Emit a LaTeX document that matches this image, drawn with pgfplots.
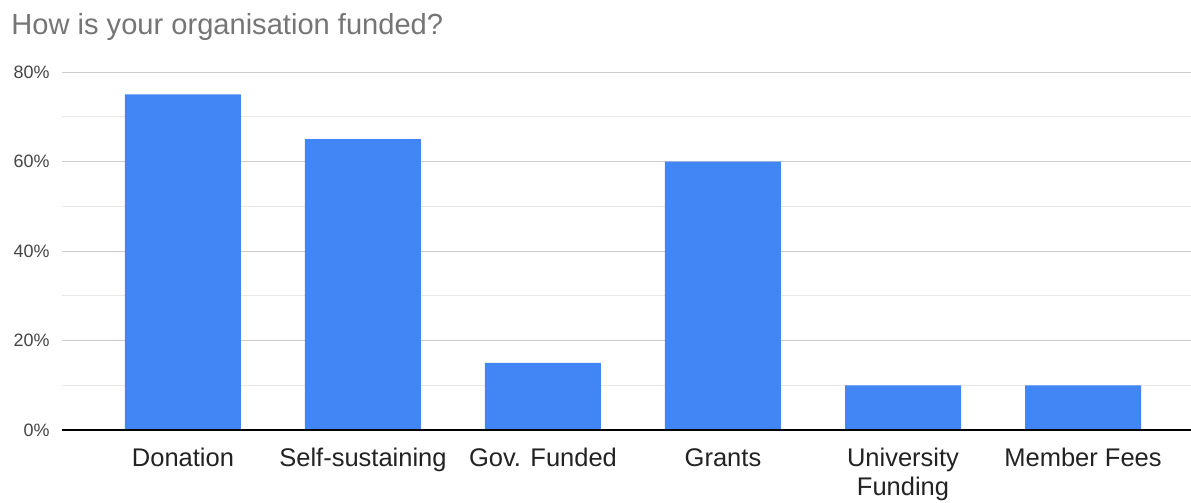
\documentclass[border=0pt]{standalone}
\usepackage{pgfplots}
\pgfplotsset{compat=1.18}
\usepackage{fontspec}
\setmainfont{Liberation Sans}
\definecolor{barblue}{HTML}{4285F4}
\definecolor{titlegray}{HTML}{757575}
\definecolor{ticklab}{HTML}{444444}
\definecolor{catlab}{HTML}{222222}
\definecolor{gridmaj}{HTML}{CCCCCC}
\definecolor{gridmin}{HTML}{E8E8E8}
\definecolor{baseline}{HTML}{333333}
\begin{document}
\begin{tikzpicture}
\useasboundingbox (0,0) rectangle (595.5bp,251.5bp);
\begin{axis}[
  at={(31bp,36.5bp)}, anchor=south west,
  scale only axis, width=564.5bp, height=179bp,
  xmin=-0.672, xmax=5.6, ymin=0, ymax=80,
  axis line style={draw=none},
  xtick={0,1,2,3,4,5},
  xticklabels={Donation, Self-sustaining, Gov. Funded, Grants, {University\\Funding}, Member Fees},
  ytick={0,20,40,60,80},
  yticklabels={0\%,20\%,40\%,60\%,80\%},
  minor ytick={10,30,50,70},
  ymajorgrids, yminorgrids,
  major grid style={gridmaj, line width=0.5bp},
  minor grid style={gridmin, line width=0.5bp},
  major tick length=0pt, minor tick length=0pt,
  yticklabel style={font=\fontsize{9}{10}\selectfont, text=ticklab, anchor=east, inner sep=0pt, xshift=-6bp},
  xticklabel style={font=\fontsize{12.8}{14.5}\selectfont, text=catlab, anchor=north, align=center, inner sep=0pt, yshift=-9bp},
  clip=false,
]
\addplot[ybar, bar width=58bp, fill=barblue, draw=none] coordinates {(0,75) (1,65) (2,15) (3,60) (4,10) (5,10)};
\draw[baseline, line width=0.6bp] (axis cs:-0.672,0) -- (axis cs:5.6,0);
\end{axis}
\node[anchor=base west, font=\fontsize{14.6}{17}\selectfont, text=titlegray, inner sep=0pt] at (5.5bp,234bp) {How is your organisation funded?};
\end{tikzpicture}
\end{document}
